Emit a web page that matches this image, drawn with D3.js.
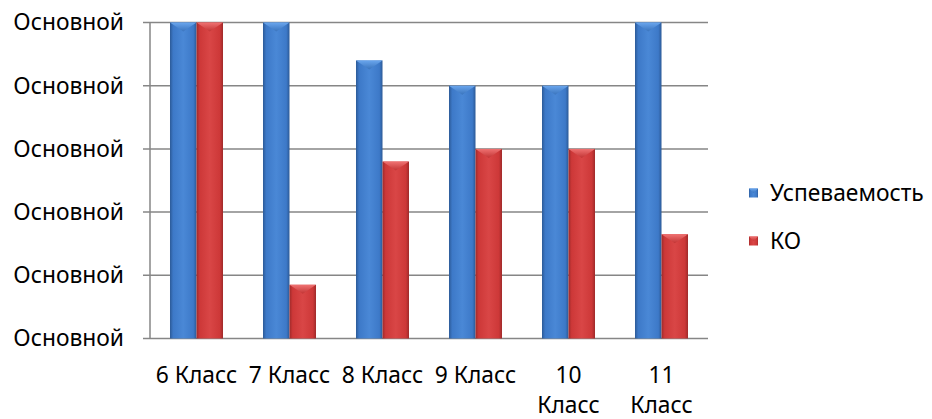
<!DOCTYPE html>
<html><head><meta charset="utf-8">
<script src="https://cdn.jsdelivr.net/npm/d3@7/dist/d3.min.js"></script>
<style>html,body{margin:0;padding:0;background:#fff;}svg{display:block;font-family:"Noto Sans","Open Sans",sans-serif;}</style>
</head><body><svg id="c" width="932" height="419"></svg>
<script>
const categories = ["6 Класс","7 Класс","8 Класс","9 Класс","10 Класс","11 Класс"];
const seriesNames = ["Успеваемость","КО"];
const uspevaemost = [100,100,88,80,80,100];
const ko = [100,17,56,60,60,33];
const yTicks = [0,20,40,60,80,100];
const yTickLabels = ["Основной","Основной","Основной","Основной","Основной","Основной"];

(function(){
const svg = d3.select("#c");
const pLeft=150,pRight=708,pTop=22.5,pBottom=338.5;
const fontSize = 22.8;
const x = d3.scaleBand().domain(categories).range([pLeft,pRight]).padding(0);
const bw = x.bandwidth();
const xs = d3.scaleBand().domain(seriesNames).range([bw*0.215, bw*0.785]).padding(0);
const y = d3.scaleLinear().domain([0,100]).range([pBottom,pTop]);

const palette = {
  "Успеваемость": {edge:"#2c5a97", mid:"#3d79c8", light:"#4a88d6", top:"#6aa6ee", topEdge:"#3a74bd"},
  "КО": {edge:"#9f2a2a", mid:"#cd3838", light:"#d94646", top:"#f07272", topEdge:"#c23434"}
};
const defs = svg.append("defs");
seriesNames.forEach((s,i)=>{
  const p = palette[s];
  const g = defs.append("linearGradient").attr("id","body"+i).attr("x1","0").attr("x2","1").attr("y1","0").attr("y2","0");
  g.append("stop").attr("offset","0").attr("stop-color",p.edge);
  g.append("stop").attr("offset","0.12").attr("stop-color",p.mid);
  g.append("stop").attr("offset","0.5").attr("stop-color",p.light);
  g.append("stop").attr("offset","0.88").attr("stop-color",p.mid);
  g.append("stop").attr("offset","1").attr("stop-color",p.edge);
  const t = defs.append("linearGradient").attr("id","top"+i).attr("x1","0").attr("x2","0").attr("y1","0").attr("y2","1");
  t.append("stop").attr("offset","0").attr("stop-color",p.top);
  t.append("stop").attr("offset","1").attr("stop-color",p.topEdge);
});

// gridlines
svg.append("g").selectAll("line").data(yTicks).join("line")
  .attr("x1",pLeft-7).attr("x2",pRight)
  .attr("y1",d=>y(d)).attr("y2",d=>y(d))
  .attr("stroke","#868686").attr("stroke-width",1.5);
svg.append("line").attr("x1",pLeft).attr("x2",pLeft).attr("y1",pTop).attr("y2",pBottom)
  .attr("stroke","#868686").attr("stroke-width",1.5);

// y labels
svg.append("g").selectAll("text").data(yTicks).join("text")
  .attr("x",pLeft-26).attr("y",d=>y(d)).attr("dy","0.35em")
  .attr("text-anchor","end").attr("font-size",fontSize).attr("fill","#000")
  .text((d,i)=>yTickLabels[i]);

// bars
const series = [uspevaemost, ko];
series.forEach((vals,si)=>{
  const s = seriesNames[si];
  const g = svg.append("g");
  const data = categories.map((c,i)=>({c, v: vals[i]}));
  const w = xs.bandwidth();
  g.selectAll("rect.b").data(data).join("rect").attr("class","b")
    .attr("x",d=>x(d.c)+xs(s)).attr("width",w)
    .attr("y",d=>y(d.v)).attr("height",d=>y(0)-y(d.v))
    .attr("fill","url(#body"+si+")");
  g.selectAll("path.t").data(data).join("path").attr("class","t")
    .attr("d",d=>{
      const x0=x(d.c)+xs(s), y0=y(d.v), depth=Math.min(9,(y(0)-y(d.v))/2);
      return `M${x0},${y0}L${x0+w},${y0}L${x0+w/2},${y0+depth}Z`;
    })
    .attr("fill","url(#top"+si+")");
});

// x labels with wrapping
const xl = svg.append("g");
categories.forEach(c=>{
  const t = xl.append("text").attr("x",x(c)+bw/2).attr("y",383)
    .attr("text-anchor","middle").attr("font-size",fontSize).attr("fill","#000").text(c);
  if (t.node().getComputedTextLength() > bw - 6) {
    t.text(null);
    c.split(" ").forEach((wd,k)=>{
      t.append("tspan").attr("x",x(c)+bw/2).attr("y",383+k*30).text(wd);
    });
  }
});

// legend
const lg = svg.append("g");
seriesNames.forEach((s,i)=>{
  const cy = 193 + i*48;
  lg.append("rect").attr("x",749).attr("y",cy-4.5).attr("width",9).attr("height",9)
    .attr("fill","url(#body"+i+")");
  lg.append("path").attr("d",`M749,${cy-4.5}L758,${cy-4.5}L753.5,${cy}Z`).attr("fill","url(#top"+i+")");
  lg.append("text").attr("x",770).attr("y",cy).attr("dy","0.35em")
    .attr("font-size",fontSize).attr("fill","#000").text(s);
});
})();
</script></body></html>
